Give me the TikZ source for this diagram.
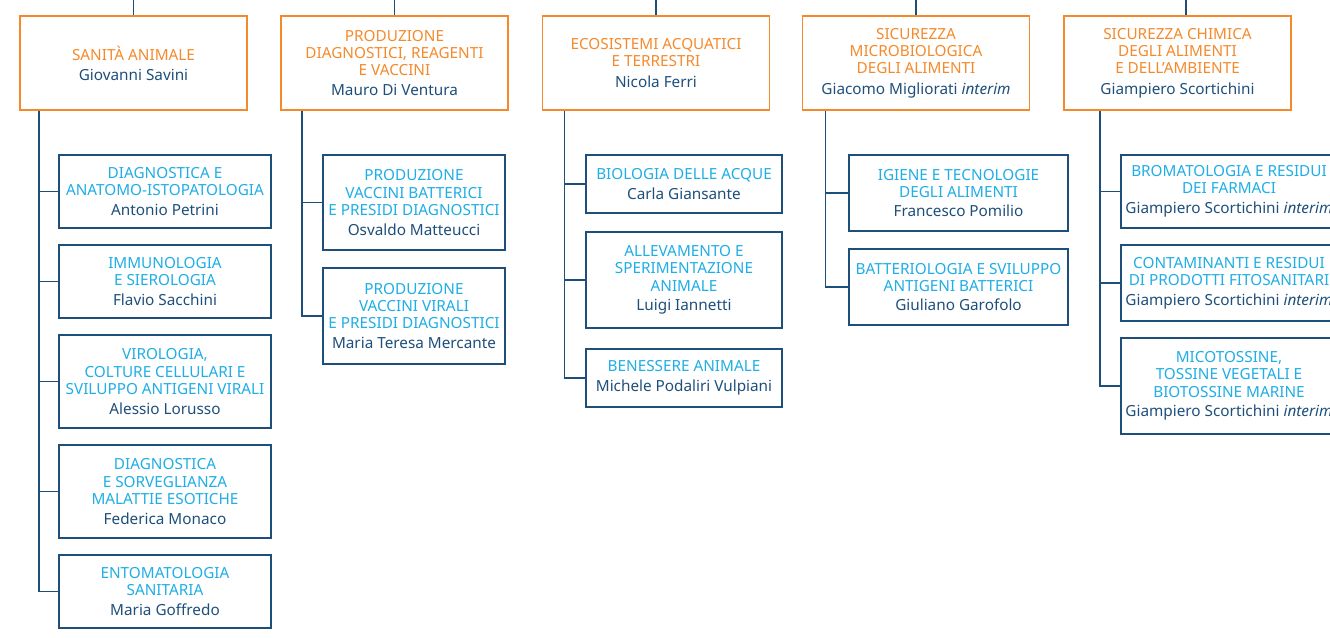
\documentclass[tikz,border=0pt]{standalone}
\usepackage{fontspec}
\setmainfont{Noto Sans}
\usetikzlibrary{calc}
\definecolor{orng}{HTML}{F58A2C}
\definecolor{lblue}{HTML}{1FAEE6}
\definecolor{dblue}{HTML}{1E4F7A}
\tikzset{
  sec/.style={draw=orng, text=orng, line width=1.8pt, fill=white, align=center, inner sep=0pt,
    minimum width=227pt, minimum height=94pt, font=\fontsize{15.3}{17.2}\selectfont},
  unit/.style={draw=dblue, text=lblue, line width=1.3pt, fill=white, align=center, inner sep=0pt,
    font=\fontsize{15.3}{17.2}\selectfont},
  link/.style={draw=dblue, line width=1.3pt}
}
\newcommand{\st}[2]{#1\\[3pt]\color{dblue}#2}
\newcommand{\ut}[2]{#1\\[2.5pt]\color{dblue}#2}
\begin{document}
\begin{tikzpicture}[x=1pt,y=-1pt]
\useasboundingbox (0,0) rectangle (1330,637);
\clip (0,0) rectangle (1330,637);
% top-level sections
\node[sec] (s1) at (133.5,63) {\st{SANITÀ ANIMALE}{Giovanni Savini}};
\node[sec] (s2) at (394.5,63) {\st{PRODUZIONE\\DIAGNOSTICI, REAGENTI\\E VACCINI}{Mauro Di Ventura}};
\node[sec] (s3) at (656,63) {\st{ECOSISTEMI ACQUATICI\\E TERRESTRI}{Nicola Ferri}};
\node[sec] (s4) at (916,63) {\st{SICUREZZA\\MICROBIOLOGICA\\DEGLI ALIMENTI}{Giacomo Migliorati \textit{interim}}};
\node[sec] (s5) at (1177.5,63) {\st{SICUREZZA CHIMICA\\DEGLI ALIMENTI\\E DELL’AMBIENTE}{Giampiero Scortichini}};
\foreach \i/\x in {1/133.5,2/394.5,3/656,4/916,5/1186}{
  \coordinate (top\i) at (\x,0);
}
\draw[link] (top1) -- (s1.north);
\draw[link] (top2) -- (s2.north);
\draw[link] (top3) -- (s3.north);
\draw[link] (top4) -- (s4.north);
\draw[link] (top5) -- (top5 |- s5.north);
% column 1
\node[unit, minimum width=212pt, minimum height=73pt] (c11) at (165,191.5) {\ut{DIAGNOSTICA E\\ANATOMO-ISTOPATOLOGIA}{Antonio Petrini}};
\node[unit, minimum width=212pt, minimum height=73pt] (c12) at (165,281.5) {\ut{IMMUNOLOGIA\\E SIEROLOGIA}{Flavio Sacchini}};
\node[unit, minimum width=212pt, minimum height=93pt] (c13) at (165,381.5) {\ut{VIROLOGIA,\\COLTURE CELLULARI E\\SVILUPPO ANTIGENI VIRALI}{Alessio Lorusso}};
\node[unit, minimum width=212pt, minimum height=93pt] (c14) at (165,491.5) {\ut{DIAGNOSTICA\\E SORVEGLIANZA\\MALATTIE ESOTICHE}{Federica Monaco}};
\node[unit, minimum width=212pt, minimum height=73pt] (c15) at (165,591.5) {\ut{ENTOMATOLOGIA\\SANITARIA}{Maria Goffredo}};
\coordinate (sp1) at ($(s1.south west)+(20,0)$);
\foreach \c in {c11,c12,c13,c14,c15}{\draw[link] (sp1) |- (\c.west);}
% column 2
\node[unit, minimum width=182pt, minimum height=95pt] (c21) at (414,202.5) {\ut{PRODUZIONE\\VACCINI BATTERICI\\E PRESIDI DIAGNOSTICI}{Osvaldo Matteucci}};
\node[unit, minimum width=182pt, minimum height=96pt] (c22) at (414,316) {\ut{PRODUZIONE\\VACCINI VIRALI\\E PRESIDI DIAGNOSTICI}{Maria Teresa Mercante}};
\coordinate (sp2) at ($(s2.south west)+(22,0)$);
\foreach \c in {c21,c22}{\draw[link] (sp2) |- (\c.west);}
% column 3
\node[unit, minimum width=196pt, minimum height=58pt] (c31) at (684,184) {\ut{BIOLOGIA DELLE ACQUE}{Carla Giansante}};
\node[unit, minimum width=196pt, minimum height=96pt] (c32) at (684,280) {\ut{ALLEVAMENTO E\\SPERIMENTAZIONE\\ANIMALE}{Luigi Iannetti}};
\node[unit, minimum width=196pt, minimum height=58pt] (c33) at (684,378) {\ut{BENESSERE ANIMALE}{Michele Podaliri Vulpiani}};
\coordinate (sp3) at ($(s3.south west)+(23,0)$);
\foreach \c in {c31,c32,c33}{\draw[link] (sp3) |- (\c.west);}
% column 4
\node[unit, minimum width=219pt, minimum height=76pt] (c41) at (958.5,193) {\ut{IGIENE E TECNOLOGIE\\DEGLI ALIMENTI}{Francesco Pomilio}};
\node[unit, minimum width=219pt, minimum height=76pt] (c42) at (958.5,287) {\ut{BATTERIOLOGIA E SVILUPPO\\ANTIGENI BATTERICI}{Giuliano Garofolo}};
\coordinate (sp4) at ($(s4.south west)+(24,0)$);
\foreach \c in {c41,c42}{\draw[link] (sp4) |- (\c.west);}
% column 5
\node[unit, minimum width=216pt, minimum height=73pt] (c51) at (1229,191.5) {\ut{BROMATOLOGIA E RESIDUI\\DEI FARMACI}{Giampiero Scortichini \textit{interim}}};
\node[unit, minimum width=216pt, minimum height=76pt] (c52) at (1229,283) {\ut{CONTAMINANTI E RESIDUI\\DI PRODOTTI FITOSANITARI}{Giampiero Scortichini \textit{interim}}};
\node[unit, minimum width=216pt, minimum height=96pt] (c53) at (1229,386) {\ut{MICOTOSSINE,\\TOSSINE VEGETALI E\\BIOTOSSINE MARINE}{Giampiero Scortichini \textit{interim}}};
\coordinate (sp5) at ($(s5.south west)+(37,0)$);
\foreach \c in {c51,c52,c53}{\draw[link] (sp5) |- (\c.west);}
\end{tikzpicture}
\end{document}
